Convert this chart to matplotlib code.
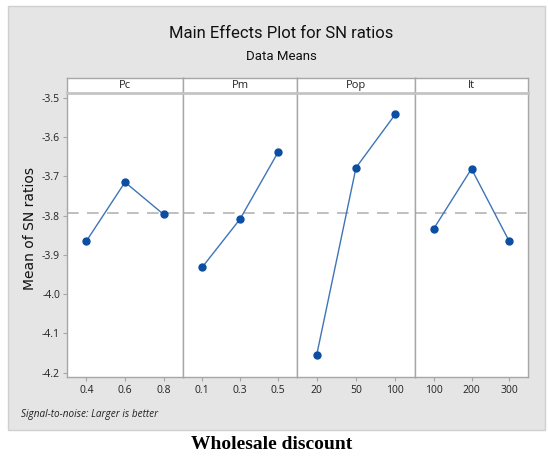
import matplotlib
matplotlib.use("Agg")
import matplotlib.pyplot as plt
from matplotlib.patches import Rectangle

# ---- data ----
factors = ["Pc", "Pm", "Pop", "It"]
levels = [["0.4", "0.6", "0.8"],
          ["0.1", "0.3", "0.5"],
          ["20", "50", "100"],
          ["100", "200", "300"]]
pc_means = [-3.865, -3.715, -3.797]
pm_means = [-3.932, -3.809, -3.639]
pop_means = [-4.155, -3.678, -3.542]
it_means = [-3.833, -3.681, -3.865]
series = [pc_means, pm_means, pop_means, it_means]
grand_mean = -3.793
yticks = [-3.5, -3.6, -3.7, -3.8, -3.9, -4.0, -4.1, -4.2]
ytick_labels = ["-3.5", "-3.6", "-3.7", "-3.8", "-3.9", "-4.0", "-4.1", "-4.2"]

W, H = 548, 461
fig = plt.figure(figsize=(W / 100, H / 100), dpi=100)
fig.patch.set_facecolor("white")

def fx(px):
    return px / W

def fy(py):
    return 1 - py / H

# gray background panel
fig.patches.append(Rectangle((fx(8), fy(430)), fx(545) - fx(8), fy(6) - fy(430),
                             transform=fig.transFigure, facecolor="#e5e5e5",
                             edgecolor="#d0d0d0", lw=1.0, zorder=-10))

font = "Open Sans"
edges = [67, 183, 297, 415, 528]
ax_top, ax_bot, strip_top = 93, 377, 78
spine_c = "#a6a6a6"
ylo, yhi = -4.2107, -3.488

for i, (f, lv, vals) in enumerate(zip(factors, levels, series)):
    l, r = edges[i], edges[i + 1]
    ax = fig.add_axes([fx(l), fy(ax_bot), fx(r) - fx(l), fy(ax_top) - fy(ax_bot)])
    ax.set_facecolor("white")
    x = [1, 2, 3]
    ax.axhline(grand_mean, color="#b4b4b4", lw=1.2, ls=(0, (7, 5)), zorder=1)
    ax.plot(x, vals, color="#3f74b8", lw=1.0, zorder=2)
    ax.plot(x, vals, ls="none", marker="o", ms=5, color="#0b4ea2", zorder=3)
    ax.set_xlim(0.5, 3.5)
    ax.set_ylim(ylo, yhi)
    ax.set_xticks(x)
    ax.set_xticklabels(lv, fontsize=7.5, family=font, color="#222222")
    for s in ax.spines.values():
        s.set_color(spine_c)
        s.set_linewidth(1.0)
    ax.spines["top"].set_visible(False)
    ax.tick_params(axis="x", length=3, width=0.8, color=spine_c, pad=3)
    if i == 0:
        ax.set_yticks(yticks)
        ax.set_yticklabels(ytick_labels, fontsize=7.5, family=font, color="#222222")
        ax.tick_params(axis="y", length=3, width=0.8, color=spine_c, pad=2)
    else:
        ax.set_yticks([])
    # strip
    sax = fig.add_axes([fx(l), fy(ax_top), fx(r) - fx(l), fy(strip_top) - fy(ax_top)])
    sax.set_facecolor("white")
    sax.set_xticks([])
    sax.set_yticks([])
    for s in sax.spines.values():
        s.set_color(spine_c)
        s.set_linewidth(1.0)
    sax.spines["bottom"].set_color("#c4c4c4")
    sax.spines["bottom"].set_linewidth(2.0)
    sax.text(0.5, 0.5, f, ha="center", va="center", fontsize=8, family=font,
             color="#222222", transform=sax.transAxes)

fig.text(fx(281), fy(34), "Main Effects Plot for SN ratios", ha="center", va="center",
         fontsize=12, family="Roboto", color="#111111")
fig.text(fx(281), fy(57), "Data Means", ha="center", va="center",
         fontsize=9.5, family="Roboto", color="#111111")
fig.text(fx(30), fy(228), "Mean of SN ratios", ha="center", va="center", rotation=90,
         fontsize=10, family="DejaVu Sans", color="#111111")
fig.text(fx(21), fy(414), "Signal-to-noise: Larger is better", ha="left", va="center",
         fontsize=7.2, family=font, style="italic", color="#222222")
fig.text(fx(272), fy(444), "Wholesale discount", ha="center", va="center",
         fontsize=14, family="Liberation Serif", weight="bold", color="black")

fig.savefig("out.png", dpi=100)
